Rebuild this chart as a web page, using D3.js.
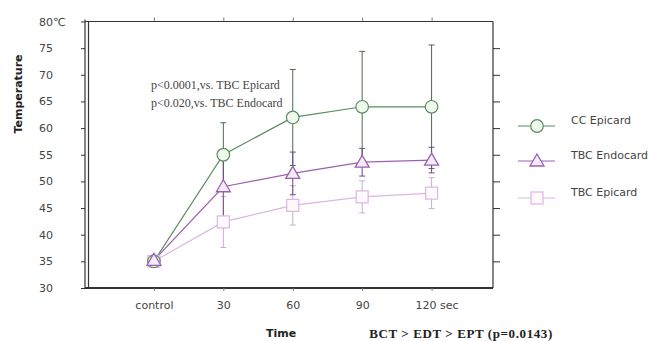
<!DOCTYPE html>
<html><head><meta charset="utf-8">
<script src="https://cdn.jsdelivr.net/npm/d3@7/dist/d3.min.js"></script>
<style>body{margin:0;background:#fff}</style>
</head><body>
<svg id="c" width="655" height="341"></svg>
<script>
const categories = ["control", "30", "60", "90", "120"];
const xTickLabels = ["control", "30", "60", "90", "120 sec"];
const yTicks = [30, 35, 40, 45, 50, 55, 60, 65, 70, 75, 80];
const ccEpicard = [35, 55, 62, 64, 64];
const ccEpicardErr = [0.4, 6, 9, 10.4, 11.6];
const tbcEndocard = [35.2, 49, 51.5, 53.6, 54];
const tbcEndocardErr = [0.4, 5.7, 4, 2.6, 2.4];
const tbcEpicard = [35, 42.4, 45.5, 47.1, 47.8];
const tbcEpicardErr = [0.4, 4.8, 3.7, 3, 2.9];
const seriesNames = ["CC Epicard", "TBC Endocard", "TBC Epicard"];
const annotations = ["p<0.0001,vs. TBC Epicard", "p<0.020,vs. TBC Endocard"];

const svg = d3.select("#c");
const L = 85, R = 493, T = 21.5, B = 288;
const x = d3.scalePoint().domain(categories).range([84.5, 501]).padding(1);
const y = d3.scaleLinear().domain([30, 80]).range([B, T]);
const axisCol = "#333", textCol = "#444";
const sans = "'DejaVu Sans', sans-serif";
const serif = "'Liberation Serif', serif";

// frame
svg.append("line").attr("x1", L).attr("x2", R).attr("y1", T).attr("y2", T).attr("stroke", axisCol).attr("stroke-width", 1.2);
svg.append("line").attr("x1", R).attr("x2", R).attr("y1", T).attr("y2", B).attr("stroke", axisCol).attr("stroke-width", 1.2);
svg.append("line").attr("x1", L).attr("x2", L).attr("y1", T - 2).attr("y2", B + 1).attr("stroke", axisCol).attr("stroke-width", 1.2);
svg.append("line").attr("x1", L + 3.5).attr("x2", L + 3.5).attr("y1", T).attr("y2", B + 1).attr("stroke", axisCol).attr("stroke-width", 1.2);
svg.append("line").attr("x1", L).attr("x2", R).attr("y1", B).attr("y2", B).attr("stroke", axisCol).attr("stroke-width", 2);

// left axis
const gl = svg.append("g").attr("transform", `translate(${L},0)`)
  .call(d3.axisLeft(y).tickValues(yTicks).tickSize(4).tickFormat(d => d === 80 ? "80\u2103" : d));
gl.select(".domain").remove();
gl.selectAll(".tick line").attr("stroke", axisCol);
gl.selectAll(".tick text").attr("x", -46).attr("text-anchor", "start")
  .attr("font-family", sans).attr("font-size", 11).attr("fill", textCol);

// right axis
const gr = svg.append("g").attr("transform", `translate(${R},0)`)
  .call(d3.axisRight(y).tickValues(yTicks.filter(d => d > 30 && d < 80)).tickSize(7).tickFormat(""));
gr.select(".domain").remove();
gr.selectAll(".tick line").attr("stroke", axisCol);

// top axis
const gt = svg.append("g").attr("transform", `translate(0,${T})`)
  .call(d3.axisTop(x).tickSize(4).tickFormat(""));
gt.select(".domain").remove();
gt.selectAll(".tick line").attr("stroke", "#777");

// bottom axis
const gb = svg.append("g").attr("transform", `translate(0,${B})`)
  .call(d3.axisBottom(x).tickSize(3).tickFormat((d, i) => xTickLabels[i]));
gb.select(".domain").remove();
gb.selectAll(".tick line").attr("stroke", "#777");
gb.selectAll(".tick text").attr("y", 13)
  .attr("font-family", sans).attr("font-size", 11).attr("fill", textCol)
  .attr("dx", (d, i) => i === 4 ? 5 : 0);

// axis titles
svg.append("text").attr("x", 281).attr("y", 337).attr("text-anchor", "middle")
  .attr("font-family", sans).attr("font-weight", "bold").attr("font-size", 11).attr("fill", "#222").text("Time");
svg.append("text").attr("transform", "translate(22,94) rotate(-90)").attr("text-anchor", "middle")
  .attr("font-family", sans).attr("font-weight", "bold").attr("font-size", 11).attr("fill", "#222").text("Temperature");
svg.append("text").attr("x", 461).attr("y", 338).attr("text-anchor", "middle")
  .attr("font-family", serif).attr("font-weight", "bold").attr("font-size", 13).attr("letter-spacing", 0.6).attr("fill", "#222").text("BCT > EDT > EPT (p=0.0143)");

// annotations
svg.selectAll("text.ann").data(annotations).enter().append("text").attr("class", "ann")
  .attr("x", 151).attr("y", (d, i) => 89 + i * 18)
  .attr("font-family", serif).attr("font-size", 12).attr("fill", "#444").text(d => d);

const series = [
  {name: seriesNames[2], v: tbcEpicard, e: tbcEpicardErr, line: "#dcb6e3", err: "#cfa9d6", fill: "#fdf9fd", shape: "square"},
  {name: seriesNames[0], v: ccEpicard, e: ccEpicardErr, line: "#5c8c60", err: "#4b6b4e", fill: "#eff8ec", shape: "circle"},
  {name: seriesNames[1], v: tbcEndocard, e: tbcEndocardErr, line: "#9a62ae", err: "#6f4a7d", fill: "#f4eaf8", shape: "triangle"}
];

function marker(g, shape, cx, cy, s) {
  if (shape === "circle") {
    g.append("circle").attr("cx", cx).attr("cy", cy).attr("r", 6.3).attr("fill", s.fill).attr("stroke", s.line).attr("stroke-width", 1.2);
  } else if (shape === "square") {
    g.append("rect").attr("x", cx - 6).attr("y", cy - 6).attr("width", 12).attr("height", 12).attr("fill", s.fill).attr("stroke", s.line).attr("stroke-width", 1.2);
  } else {
    g.append("path").attr("d", `M${cx},${cy - 7}L${cx + 7},${cy + 5}L${cx - 7},${cy + 5}Z`).attr("fill", s.fill).attr("stroke", s.line).attr("stroke-width", 1.3);
  }
}

const line = d3.line().x((d, i) => x(categories[i])).y(d => y(d));
series.forEach(s => {
  const g = svg.append("g");
  s.v.forEach((v, i) => {
    const cx = x(categories[i]);
    g.append("line").attr("x1", cx).attr("x2", cx).attr("y1", y(v + s.e[i])).attr("y2", y(v - s.e[i])).attr("stroke", s.err).attr("stroke-width", 1);
    [v + s.e[i], v - s.e[i]].forEach(t => g.append("line").attr("x1", cx - 3).attr("x2", cx + 3).attr("y1", y(t)).attr("y2", y(t)).attr("stroke", s.err).attr("stroke-width", 1));
  });
  g.append("path").datum(s.v).attr("d", line).attr("fill", "none").attr("stroke", s.line).attr("stroke-width", 1.2);
});
series.forEach(s => {
  const g = svg.append("g");
  s.v.forEach((v, i) => marker(g, s.shape, x(categories[i]), y(v), s));
});

// legend
const legendOrder = [series[1], series[2], series[0]];
const legY = [126, 161, 198];
legendOrder.forEach((s, i) => {
  const g = svg.append("g");
  g.append("line").attr("x1", 518).attr("x2", 555).attr("y1", legY[i]).attr("y2", legY[i]).attr("stroke", s.line).attr("stroke-width", 1.2);
  marker(g, s.shape, 537, legY[i], s);
  g.append("text").attr("x", 571).attr("y", legY[i] - 2).attr("font-family", sans)
    .attr("font-size", 11).attr("fill", textCol).text(s.name);
});
</script>
</body></html>
